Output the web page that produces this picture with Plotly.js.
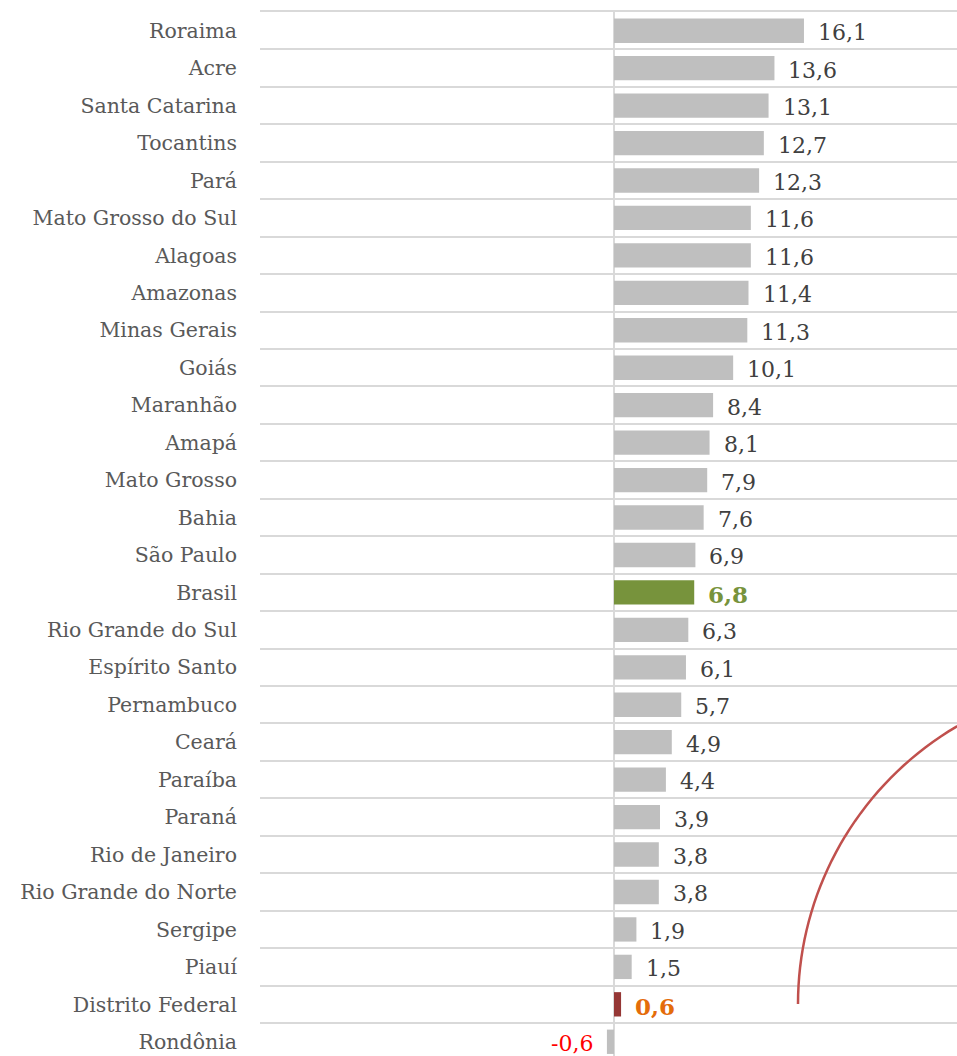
<!DOCTYPE html>
<html>
<head>
<meta charset="utf-8">
<script src="https://cdn.plot.ly/plotly-3.0.1.min.js"></script>
<style>
html,body{margin:0;padding:0;overflow:hidden;background:#fff;}
#chart{width:957px;height:1056px;}
</style>
</head>
<body>
<div id="chart"></div>
<script>
const categories = ["Roraima","Acre","Santa Catarina","Tocantins","Pará","Mato Grosso do Sul","Alagoas","Amazonas","Minas Gerais","Goiás","Maranhão","Amapá","Mato Grosso","Bahia","São Paulo","Brasil","Rio Grande do Sul","Espírito Santo","Pernambuco","Ceará","Paraíba","Paraná","Rio de Janeiro","Rio Grande do Norte","Sergipe","Piauí","Distrito Federal","Rondônia"];
const values = [16.1,13.6,13.1,12.7,12.3,11.6,11.6,11.4,11.3,10.1,8.4,8.1,7.9,7.6,6.9,6.8,6.3,6.1,5.7,4.9,4.4,3.9,3.8,3.8,1.9,1.5,0.6,-0.6];

const SERIF = "DejaVu Serif, Liberation Serif, serif";
const barColors = categories.map(c => c === "Brasil" ? "#77933C" : (c === "Distrito Federal" ? "#953735" : "#BFBFBF"));

function fmt(v){ return v.toFixed(1).replace(".", ","); }

const annotations = categories.map((c, i) => {
  const v = values[i];
  let color = "#404040", text = fmt(v), size = 22;
  if (c === "Brasil") { color = "#77933C"; text = "<b>" + text + "</b>"; size = 23; }
  else if (c === "Distrito Federal") { color = "#E46C0A"; text = "<b>" + text + "</b>"; size = 23; }
  else if (v < 0) { color = "#FF0000"; }
  return {
    x: v, y: c, xref: "x", yref: "y",
    text: text, showarrow: false,
    xanchor: v < 0 ? "right" : "left",
    xshift: v < 0 ? -12 : 12,
    yshift: -2,
    bgcolor: "#ffffff", borderpad: 1,
    font: {family: SERIF, size: size, color: color}
  };
});

// decorative arc (pixel geometry -> paper coords)
const W = 957, H = 1056, ML = 260, MT = 12, PW = W - ML, PH = H - MT;
function px2paper(px, py){ return [(px - ML)/PW, 1 - (py - MT)/PH]; }
const cx = 1120, cy = 1004, R = 322;
let path = "";
for (let k = 0; k <= 40; k++) {
  const th = (180 - k * (66/40)) * Math.PI / 180;
  const p = px2paper(cx + R*Math.cos(th), cy - R*Math.sin(th));
  path += (k === 0 ? "M" : "L") + p[0].toFixed(5) + "," + p[1].toFixed(5);
}

const data = [{
  type: "bar", orientation: "h",
  x: values, y: categories,
  marker: {color: barColors},
  hoverinfo: "skip"
}];

const layout = {
  width: W, height: H,
  margin: {l: ML, r: 0, t: MT, b: 0, pad: 0},
  paper_bgcolor: "#ffffff", plot_bgcolor: "#ffffff",
  showlegend: false,
  bargap: 0.35,
  xaxis: {
    range: [-30, 29.07], showgrid: false, showticklabels: false, ticks: "",
    side: "top", showline: true, linecolor: "#D9D9D9", linewidth: 2,
    zeroline: true, zerolinecolor: "#D9D9D9", zerolinewidth: 2, fixedrange: true
  },
  yaxis: {
    type: "category", categoryorder: "array", categoryarray: categories,
    autorange: false, range: [27.38, -0.5],
    showgrid: true, gridcolor: "#D9D9D9", gridwidth: 2, tickson: "boundaries",
    ticks: "", ticklabelstandoff: 22, showline: false, zeroline: false,
    tickfont: {family: SERIF, size: 20.5, color: "#595959"}, fixedrange: true
  },
  annotations: annotations,
  shapes: [{
    type: "path", xref: "paper", yref: "paper", path: path,
    line: {color: "#C0504D", width: 2.5}, layer: "above"
  }]
};

Plotly.newPlot("chart", data, layout, {displayModeBar: false, staticPlot: true});
</script>
</body>
</html>
